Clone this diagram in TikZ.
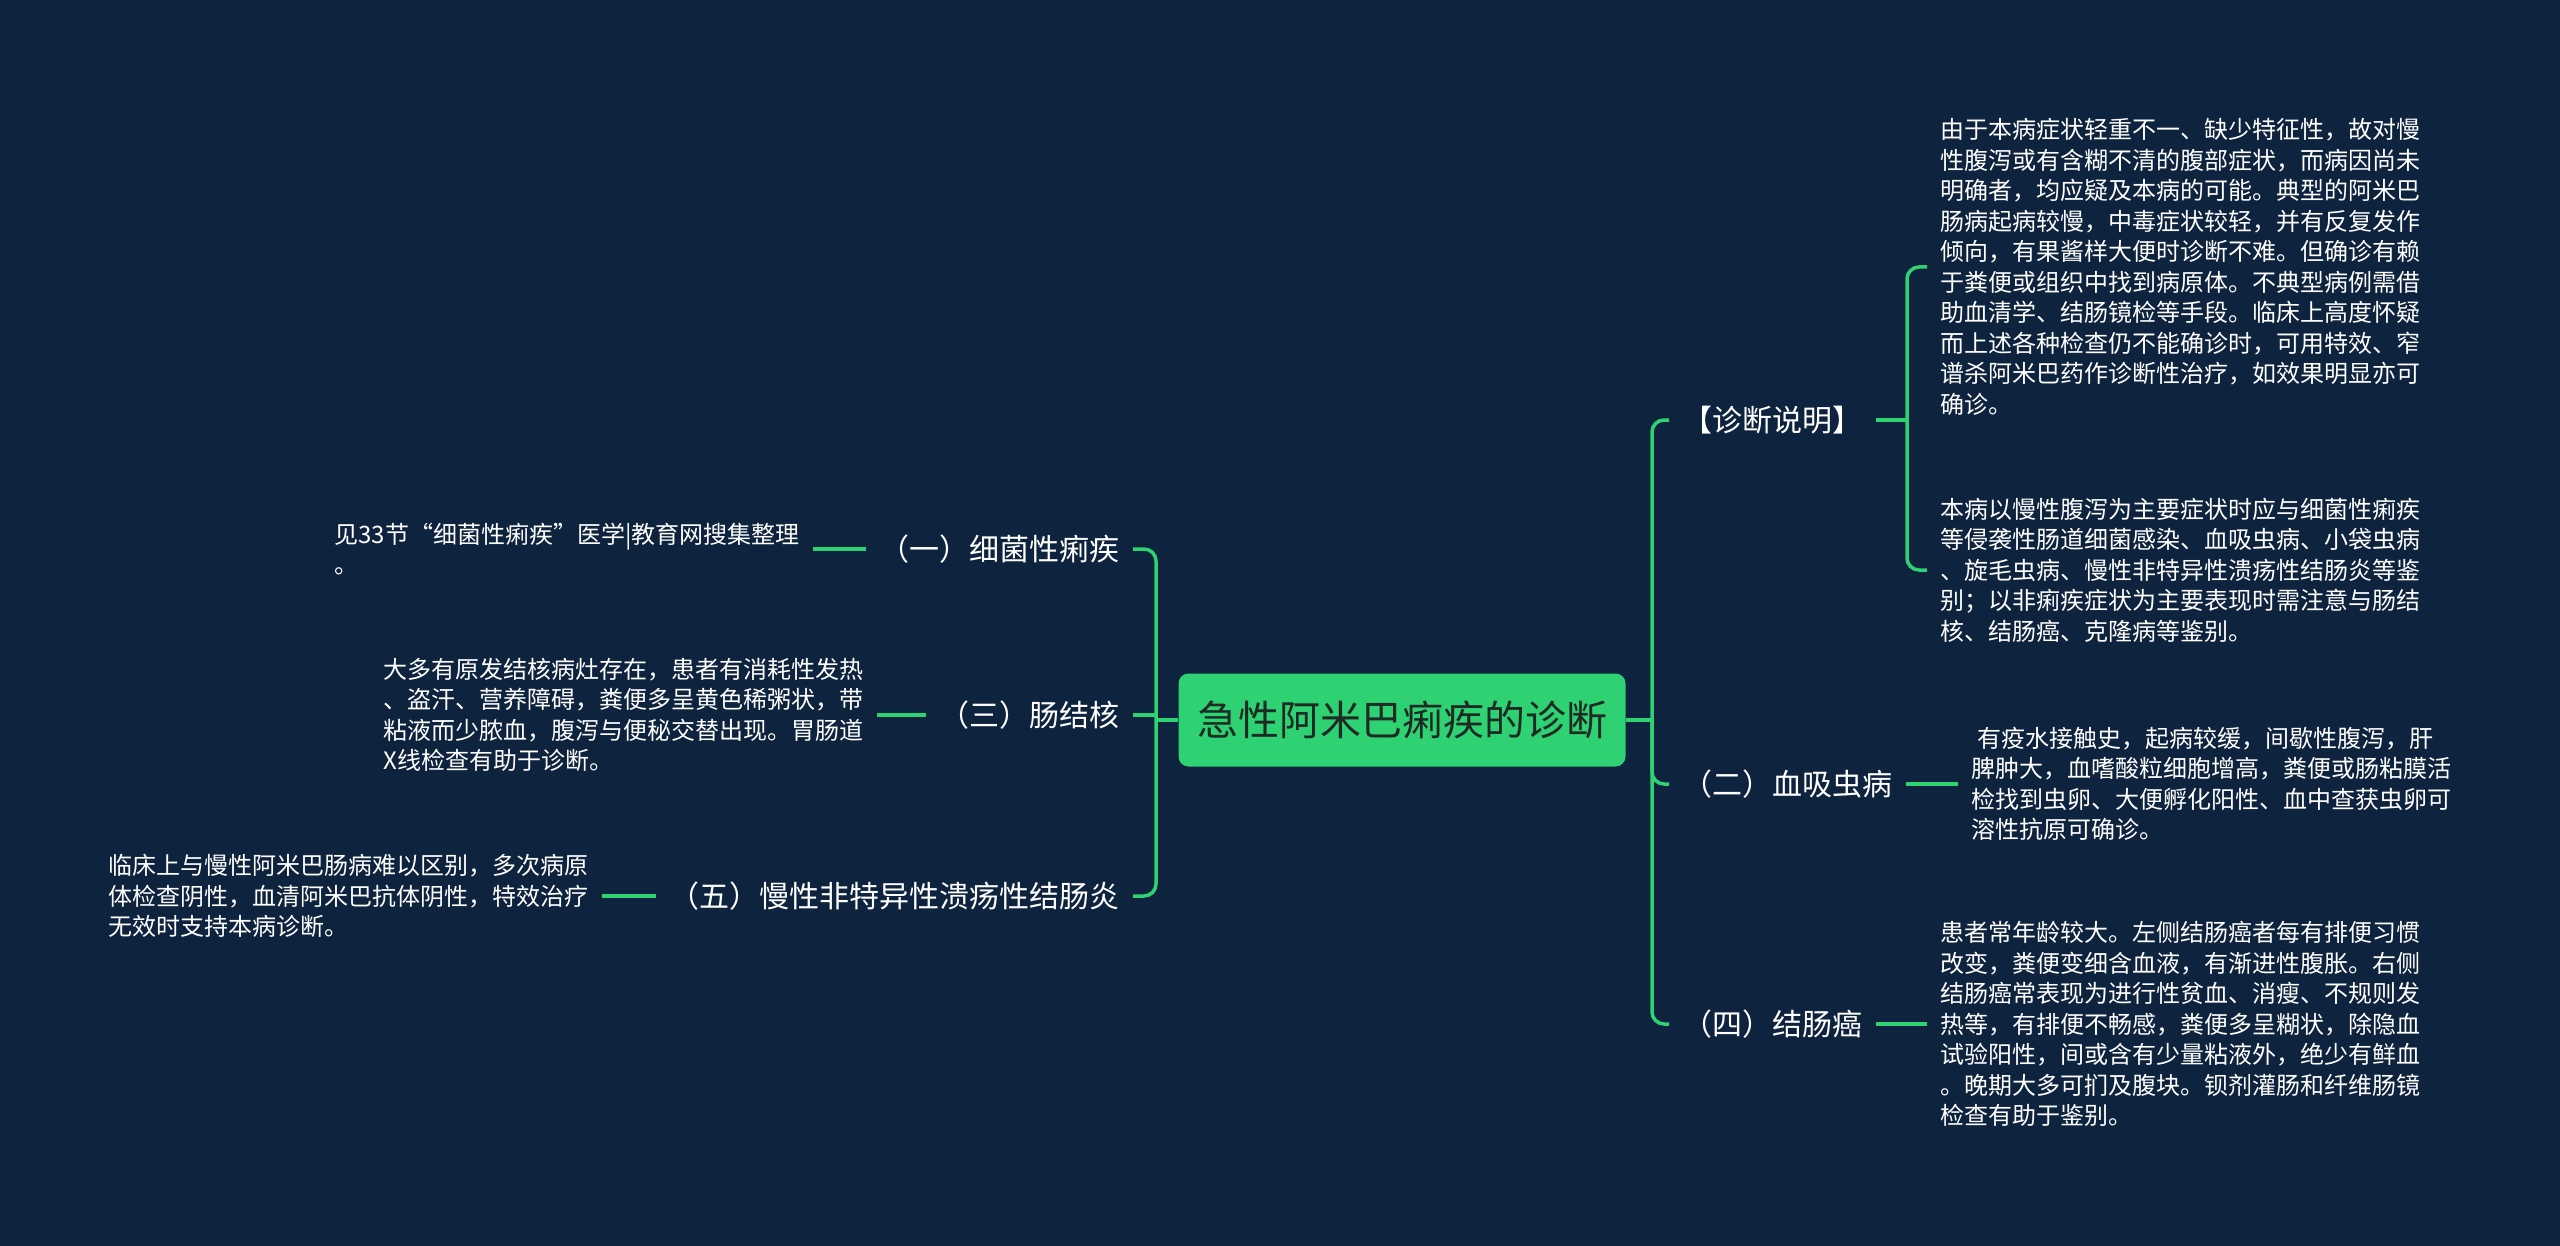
\documentclass[tikz,border=0pt]{standalone}
\usepackage{fontspec}
\setmainfont{Noto Sans CJK SC}
\definecolor{bgnavy}{RGB}{13,35,62}
\definecolor{mapgreen}{RGB}{46,210,115}
\definecolor{rootink}{RGB}{30,42,36}

\begin{document}
\begin{tikzpicture}[x=0.5pt, y=-0.5pt,
        root_box/.style={fill=mapgreen, rounded corners=5pt, minimum width=223.5pt, minimum height=46.5pt, text=rootink, font=\fontsize{20.5}{24}\selectfont},
        branch_label/.style={text=white, inner sep=6.5pt, font=\fontsize{15}{18}\selectfont},
        leaf_text/.style={text=white, inner sep=6.5pt, align=left, font=\fontsize{12}{15.25}\selectfont},
        link/.style={draw=mapgreen, line width=1.75pt, rounded corners=6pt}
    ]
        % Background
        \fill[bgnavy] (0,0) rectangle (2560,1246);
        \useasboundingbox (0,0) rectangle (2560,1246);

        % Root
        \node[root_box] (root) at (1402,720) {急性阿米巴痢疾的诊断};

        % Left branches
        \node[branch_label, anchor=east] (b1) at (1133,549) {（一）细菌性痢疾};
        \node[branch_label, anchor=east] (b3) at (1133,715) {（三）肠结核};
        \node[branch_label, anchor=east] (b5) at (1133,896) {（五）慢性非特异性溃疡性结肠炎};

        % Right branches
        \node[branch_label, anchor=west] (zd) at (1669,420) {【诊断说明】};
        \node[branch_label, anchor=west] (b2) at (1669,784) {（二）血吸虫病};
        \node[branch_label, anchor=west] (b4) at (1669,1024) {（四）结肠癌};

        % Left leaves
        \node[leaf_text, anchor=east] (l1) at (813,549) {见33节“细菌性痢疾”医学|教育网搜集整理\\。};
        \node[leaf_text, anchor=east] (l3) at (877,715) {大多有原发结核病灶存在，患者有消耗性发热\\、盗汗、营养障碍，粪便多呈黄色稀粥状，带\\粘液而少脓血，腹泻与便秘交替出现。胃肠道\\X线检查有助于诊断。};
        \node[leaf_text, anchor=east] (l5) at (602,896) {临床上与慢性阿米巴肠病难以区别，多次病原\\体检查阴性，血清阿米巴抗体阴性，特效治疗\\无效时支持本病诊断。};

        % Right leaves
        \node[leaf_text, anchor=west] (la) at (1927,267) {由于本病症状轻重不一、缺少特征性，故对慢\\性腹泻或有含糊不清的腹部症状，而病因尚未\\明确者，均应疑及本病的可能。典型的阿米巴\\肠病起病较慢，中毒症状较轻，并有反复发作\\倾向，有果酱样大便时诊断不难。但确诊有赖\\于粪便或组织中找到病原体。不典型病例需借\\助血清学、结肠镜检等手段。临床上高度怀疑\\而上述各种检查仍不能确诊时，可用特效、窄\\谱杀阿米巴药作诊断性治疗，如效果明显亦可\\确诊。};
        \node[leaf_text, anchor=west] (lb) at (1927,570) {本病以慢性腹泻为主要症状时应与细菌性痢疾\\等侵袭性肠道细菌感染、血吸虫病、小袋虫病\\、旋毛虫病、慢性非特异性溃疡性结肠炎等鉴\\别；以非痢疾症状为主要表现时需注意与肠结\\核、结肠癌、克隆病等鉴别。};
        \node[leaf_text, anchor=west] (l2) at (1958,784) {\hspace{3pt}有疫水接触史，起病较缓，间歇性腹泻，肝\\脾肿大，血嗜酸粒细胞增高，粪便或肠粘膜活\\检找到虫卵、大便孵化阳性、血中查获虫卵可\\溶性抗原可确诊。};
        \node[leaf_text, anchor=west] (l4) at (1927,1024) {患者常年龄较大。左侧结肠癌者每有排便习惯\\改变，粪便变细含血液，有渐进性腹胀。右侧\\结肠癌常表现为进行性贫血、消瘦、不规则发\\热等，有排便不畅感，粪便多呈糊状，除隐血\\试验阳性，间或含有少量粘液外，绝少有鲜血\\。晚期大多可扪及腹块。钡剂灌肠和纤维肠镜\\检查有助于鉴别。};

        % Brackets from the root
        \coordinate (lbr) at (1156,720);
        \coordinate (rbr) at (1652,720);
        \coordinate (zbr) at (1907,420);
        \draw[link] (root.west) -- (lbr);
        \draw[link] (lbr) |- (b1.east);
        \draw[link] (lbr) |- (b5.east);
        \draw[link] (b3.east) -- (b3.east -| lbr);
        \draw[link] (root.east) -- (rbr);
        \draw[link] (rbr) |- (zd.west);
        \draw[link] (rbr) |- (b2.west);
        \draw[link] (rbr) |- (b4.west);

        % Branch to leaf links
        \draw[link] (zd.east) -- (zbr);
        \draw[link] (zbr) |- (la.west);
        \draw[link] (zbr) |- (lb.west);
        \draw[link] (b2.east) -- (l2.west);
        \draw[link] (b4.east) -- (l4.west);
        \draw[link] (b1.west) -- (l1.east);
        \draw[link] (b3.west) -- (l3.east);
        \draw[link] (b5.west) -- (l5.east);
    \end{tikzpicture}
\end{document}
